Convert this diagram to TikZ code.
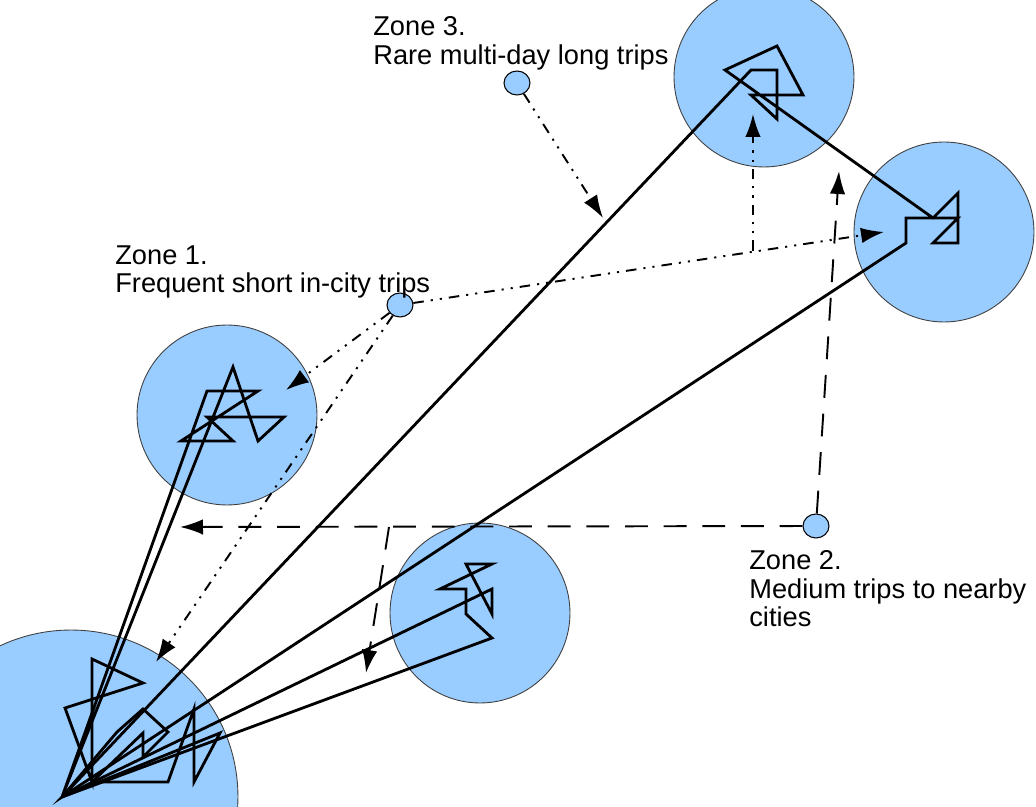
\documentclass[tikz,border=0pt]{standalone}
\usepackage{fontspec}
\setmainfont{Liberation Sans}
\usetikzlibrary{arrows.meta,shapes.geometric}

\definecolor{zonefill}{RGB}{153,204,255}

\tikzset{
  area/.style={circle, fill=zonefill, draw=black!75, line width=0.5pt, inner sep=0pt, minimum size=3.6cm},
  marker/.style={ellipse, fill=zonefill, draw=black, line width=0.6pt, inner sep=0pt, minimum width=0.52cm, minimum height=0.48cm},
  zonetext/.style={anchor=north west, align=left, inner sep=0pt, font=\fontsize{15.5}{16.3}\selectfont},
  trip/.style={line width=1.6pt},
  tip/.style={-{Latex[length=4.6mm,width=3.1mm]}},
  dashdotdot/.style={line width=1.1pt, dash pattern=on 6pt off 4pt on 1.2pt off 4pt on 1.2pt off 4pt},
  longdash/.style={line width=1.1pt, dash pattern=on 13pt off 9pt}
}

\begin{document}
\begin{tikzpicture}[x=0.02cm, y=-0.02cm]
  \useasboundingbox (0,0) rectangle (1036,807);
  \clip (0,0) rectangle (1036,807);

  % visited areas
  \node [area, minimum size=6.68cm] (home) at (71,797) {};
  \node [area] (city) at (227,415) {};
  \node [area] (near) at (480,613) {};
  \node [area] (far) at (764,77) {};
  \node [area] (far2) at (944,232) {};

  % zone markers and texts
  \node [marker] (z3) at (517,83) {};
  \node [marker] (z1) at (400,305) {};
  \node [marker] (z2) at (816,526) {};
  \node [zonetext] (t3) at (373,16) {Zone 3.\\Rare multi-day long trips};
  \node [zonetext] (t1) at (115,245) {Zone 1.\\Frequent short in-city trips};
  \node [zonetext] (t2) at (749,550) {Zone 2.\\Medium trips to nearby\\cities};

  % trips
  \coordinate (o) at (62,797);
  \coordinate (h) at (92,782);
  \draw [trip] (o) -- (207,391) -- (258,391) -- (181,441) -- (233,441) -- (207,417) -- (284,417) -- (258,441) -- (233,367) -- cycle;
  \draw [trip] (o) -- (751,70) -- (777,70) -- (777,119) -- (751,95) -- (803,95) -- (777,46) -- (725,70)
    -- (933,218) -- (958,193) -- (958,243) -- (933,243) -- (958,218) -- (906,218) -- (906,243) -- cycle;
  \draw [trip] (o) -- (492,589) -- (492,614) -- (466,564) -- (492,564) -- (440,589) -- (466,589) -- (466,614) -- (492,638) -- cycle;
  \draw [trip] (h) -- (92,659) -- (143,683) -- (65,708) -- cycle;
  \draw [trip] (o) -- (117,732) -- (143,709) -- (168,732) -- (143,757) -- (143,733) -- (h);
  \draw [trip] (h) -- (168,782) -- (194,709) -- (194,782) -- (220,733) -- (o);

  % zone arrows
  \coordinate (a3) at (603,218);
  \coordinate (a1far) at (884,232);
  \coordinate (a1up) at (753,114);
  \coordinate (a1city) at (286,390);
  \coordinate (a1home) at (156,662);
  \coordinate (b1) at (753,251);
  \coordinate (a2left) at (180,527);
  \coordinate (a2up) at (839,171);
  \coordinate (a2down) at (366,673);
  \coordinate (b2) at (389,527);
  \draw [dashdotdot, tip] (z3) -- (a3);
  \draw [dashdotdot, tip] (z1) -- (a1far);
  \draw [dashdotdot, tip] (b1) -- (a1up);
  \draw [dashdotdot, tip] (z1) -- (a1city);
  \draw [dashdotdot, tip] (z1) -- (a1home);
  \draw [longdash, tip] (z2) -- (a2left);
  \draw [longdash, tip] (z2) -- (a2up);
  \draw [longdash, tip] (b2) -- (a2down);
\end{tikzpicture}
\end{document}
